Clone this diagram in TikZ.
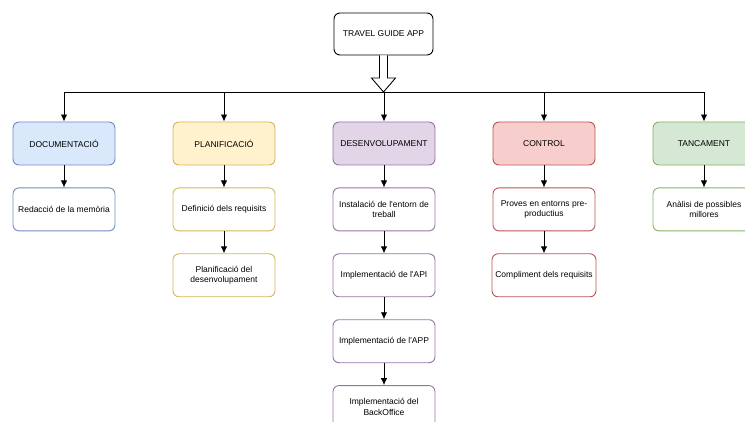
\documentclass[tikz,border=0pt]{standalone}
\usepackage{fontspec}
\setmainfont{Liberation Sans}
\usetikzlibrary{arrows.meta, positioning, calc}

\definecolor{docfill}{HTML}{DAE8FC}
\definecolor{docline}{HTML}{6C8EBF}
\definecolor{planfill}{HTML}{FFF2CC}
\definecolor{planline}{HTML}{D6B656}
\definecolor{desfill}{HTML}{E1D5E7}
\definecolor{desline}{HTML}{9673A6}
\definecolor{ctrlfill}{HTML}{F8CECC}
\definecolor{ctrlline}{HTML}{B85450}
\definecolor{tancfill}{HTML}{D5E8D4}
\definecolor{tancline}{HTML}{82B366}

\begin{document}
\begin{tikzpicture}[
  x=1pt, y=1pt,
  node distance=22pt,
  box/.style={draw, rounded corners=6pt, minimum width=102pt,
    minimum height=43pt, font=\fontsize{8.5}{10.5}\selectfont,
    align=center, line width=0.9pt},
  arrow/.style={-{Latex[length=7pt, width=6.5pt]}, line width=0.9pt},
]
  \useasboundingbox (0,0) rectangle (745,421);

  % Root
  \node[box, minimum width=99pt, minimum height=42pt] (app) at (383.5,387)
    {TRAVEL GUIDE APP};
  \coordinate (hub) at (383.5,329);
  \draw[fill=white, line width=0.9pt] ($(app.south)+(-4,0)$) |- ($(hub)+(-12,14)$)
    -- (hub) -- ($(hub)+(12,14)$) -| ($(app.south)+(4,0)$);

  % Phase headers
  \node[box, fill=docfill, draw=docline] (doc) at (64,277.5) {DOCUMENTACIÓ};
  \node[box, fill=planfill, draw=planline] (plan) at (224,277.5) {PLANIFICACIÓ};
  \node[box, fill=desfill, draw=desline] (des) at (384,277.5) {DESENVOLUPAMENT};
  \node[box, fill=ctrlfill, draw=ctrlline] (ctrl) at (544,277.5) {CONTROL};
  \node[box, fill=tancfill, draw=tancline] (tanc) at (704,277.5) {TANCAMENT};

  \draw[line width=0.9pt] (doc |- hub) -- (tanc |- hub);
  \foreach \n in {doc,plan,des,ctrl,tanc}
    \draw[arrow] (\n |- hub) -- (\n);

  % Tasks
  \node[box, draw=docline, below=of doc] (redac) {Redacció de la memòria};

  \node[box, draw=planline, below=of plan] (requi) {Definició dels requisits};
  \node[box, draw=planline, below=of requi] (plades)
    {Planificació del\\desenvolupament};

  \node[box, draw=desline, below=of des] (entorn)
    {Instalació de l\textquotesingle entorn de\\treball};
  \node[box, draw=desline, below=of entorn] (api)
    {Implementació de l\textquotesingle API};
  \node[box, draw=desline, below=of api] (appimp)
    {Implementació de l\textquotesingle APP};
  \node[box, draw=desline, below=of appimp] (back)
    {Implementació del\\BackOffice};

  \node[box, draw=ctrlline, below=of ctrl] (proves)
    {Proves en entorns pre-\\productius};
  \node[box, draw=ctrlline, below=of proves] (compl) {Compliment dels requisits};

  \node[box, draw=tancline, below=of tanc] (anal)
    {Anàlisi de possibles\\millores};

  \draw[arrow] (doc) -- (redac);
  \draw[arrow] (plan) -- (requi);
  \draw[arrow] (requi) -- (plades);
  \draw[arrow] (des) -- (entorn);
  \draw[arrow] (entorn) -- (api);
  \draw[arrow] (api) -- (appimp);
  \draw[arrow] (appimp) -- (back);
  \draw[arrow] (ctrl) -- (proves);
  \draw[arrow] (proves) -- (compl);
  \draw[arrow] (tanc) -- (anal);

\end{tikzpicture}
\end{document}
